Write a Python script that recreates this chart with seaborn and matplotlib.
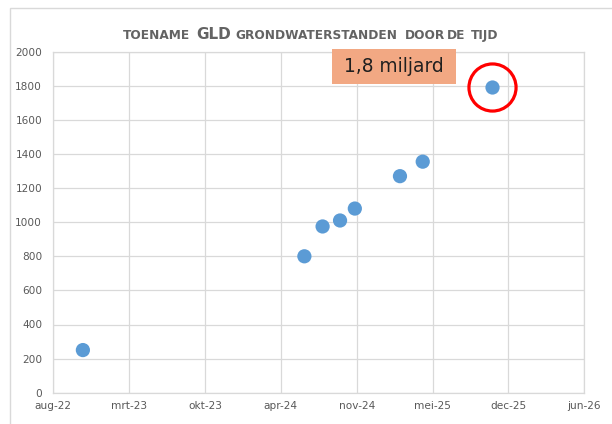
import matplotlib
matplotlib.use("Agg")
import matplotlib.pyplot as plt
from matplotlib.patches import Rectangle
import seaborn as sns
import pandas as pd

# ---- data ----
dates = ["2022-11-13", "2024-06-19", "2024-08-06", "2024-09-21",
         "2024-10-30", "2025-02-26", "2025-04-27", "2025-10-28"]
values = [250, 800, 975, 1010, 1080, 1270, 1355, 1790]
y_ticks = list(range(0, 2001, 200))
x_tick_dates = ["2022-08-27", "2023-03-15", "2023-10-01", "2024-04-18",
                "2024-11-04", "2025-05-23", "2025-12-09", "2026-06-27"]
dutch_months = ["jan", "feb", "mrt", "apr", "mei", "jun",
                "jul", "aug", "sep", "okt", "nov", "dec"]
x_min, x_max = "2022-08-27", "2026-06-27"
title_words = ["TOENAME", "GLD", "GRONDWATERSTANDEN", "DOOR", "DE", "TIJD"]
callout_text = "1,8 miljard"

df = pd.DataFrame({"datum": pd.to_datetime(dates), "waarde": values})

sns.set_theme(style="white")
plt.rcParams["font.family"] = ["DejaVu Sans"]

W, H = 612, 424
fig = plt.figure(figsize=(W / 100, H / 100), dpi=100)

def fx(px):
    return px / W

def fy(py):
    return 1 - py / H

ax = fig.add_axes([fx(53.3), fy(392.7), fx(584.3 - 53.3), (392.7 - 51.7) / H])

blue = "#5B9BD5"
sns.scatterplot(data=df, x="datum", y="waarde", ax=ax, s=105, color=blue,
                edgecolor="none", linewidth=0, zorder=3, clip_on=False)

# red highlight circle around the last point
last = df.iloc[[-1]]
ax.scatter(last["datum"], last["waarde"], s=1150, facecolors="none",
           edgecolors="#FF0000", linewidths=2.3, zorder=4, clip_on=False)

ax.set_xlim(pd.Timestamp(x_min), pd.Timestamp(x_max))
ax.set_ylim(0, 2000)

tick_ts = [pd.Timestamp(d) for d in x_tick_dates]
ax.set_xticks(tick_ts)
ax.set_xticklabels([f"{dutch_months[t.month - 1]}-{t.strftime('%y')}" for t in tick_ts])
ax.set_yticks(y_ticks)
ax.set_yticklabels([str(v) for v in y_ticks])

grid_c = "#D9D9D9"
ax.grid(True, color=grid_c, linewidth=0.9)
ax.set_axisbelow(True)
for sp in ax.spines.values():
    sp.set_color(grid_c)
    sp.set_linewidth(0.9)
ax.tick_params(axis="both", length=0, labelsize=7.6, labelcolor="#595959")
ax.tick_params(axis="y", pad=8)
ax.tick_params(axis="x", pad=6)
ax.set_xlabel("")
ax.set_ylabel("")

# chart area border (top and left visible)
fig.add_artist(Rectangle((fx(9.8), fy(430)), 1.0, (430 - 7.5) / H,
                         transform=fig.transFigure, fill=False,
                         edgecolor="#D9D9D9", linewidth=1.0))

# title words, each centred on its span in the reference
title_c = "#636363"
title_span = [(124.3, 189), (197.7, 229.3), (236.7, 396.7),
              (406, 444), (449, 463.3), (469.3, 500)]
base_y = fy(39.0)
for word, (x0, x1) in zip(title_words, title_span):
    big = word == "GLD"
    fig.text(fx((x0 + x1) / 2), base_y, word,
             fontsize=11.0 if big else 8.7, fontweight="bold",
             color=title_c, ha="center", va="baseline")

# callout box
fig.add_artist(Rectangle((fx(332), fy(84)), fx(456 - 332), (84 - 49) / H,
                         transform=fig.transFigure, facecolor="#F2A883",
                         edgecolor="none", zorder=5))
fig.text(fx(394), fy(66.5), callout_text, fontsize=13.4, color="#1F1F1F",
         ha="center", va="center", zorder=6)

fig.savefig("out.png", dpi=100)
